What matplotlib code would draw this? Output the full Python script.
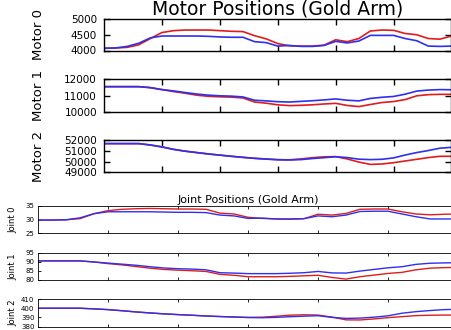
import matplotlib
matplotlib.use("Agg")
import matplotlib.pyplot as plt

# Sample times shared by every trace
time = [0, 2, 4, 6, 8, 10, 12, 14, 16, 18, 20, 22, 24, 26, 28, 30,
        32, 34, 36, 38, 40, 42, 44, 46, 48, 50, 52, 54, 56, 58, 60]

# Motor encoder positions: commanded (red) and measured (blue)
motor0_red = [4070, 4080, 4100, 4180, 4380, 4570, 4630, 4650, 4650, 4650,
              4630, 4610, 4600, 4470, 4370, 4220, 4150, 4140, 4140, 4170,
              4340, 4280, 4380, 4620, 4650, 4640, 4540, 4500, 4380, 4360, 4460]
motor0_blue = [4070, 4080, 4130, 4230, 4400, 4460, 4460, 4460, 4460, 4450,
               4430, 4420, 4420, 4280, 4250, 4140, 4160, 4130, 4130, 4160,
               4290, 4240, 4300, 4480, 4480, 4480, 4380, 4310, 4140, 4130, 4140]

motor1_red = [11550, 11550, 11550, 11550, 11490, 11370, 11250, 11150, 11030,
              10960, 10930, 10910, 10860, 10610, 10540, 10440, 10390, 10410,
              10440, 10490, 10530, 10400, 10330, 10460, 10580, 10640, 10760,
              10990, 11060, 11080, 11080]
motor1_blue = [11550, 11550, 11550, 11550, 11490, 11370, 11290, 11190, 11100,
               11030, 10990, 10970, 10920, 10720, 10680, 10630, 10610, 10650,
               10690, 10740, 10800, 10720, 10680, 10830, 10900, 10950, 11090,
               11280, 11340, 11370, 11360]

motor2_red = [51690, 51690, 51690, 51690, 51560, 51380, 51150, 50980, 50850,
              50720, 50610, 50500, 50400, 50310, 50240, 50180, 50170, 50250,
              50370, 50450, 50470, 50250, 49960, 49740, 49780, 49900, 50060,
              50220, 50380, 50500, 50500]
motor2_blue = [51690, 51690, 51690, 51690, 51560, 51380, 51150, 50980, 50850,
               50720, 50610, 50500, 50400, 50310, 50240, 50180, 50160, 50190,
               50290, 50370, 50460, 50380, 50230, 50190, 50220, 50350, 50620,
               50850, 51040, 51260, 51340]

# Joint angles in degrees
joint0_red = [29.8, 29.8, 29.9, 30.3, 32.1, 33.2, 33.7, 33.9, 34.0, 33.9,
              33.8, 33.8, 33.7, 32.3, 32.0, 30.8, 30.4, 30.2, 30.1, 30.3,
              31.9, 31.6, 32.2, 33.7, 33.8, 33.8, 32.8, 32.0, 31.7, 31.9, 32.0]
joint0_blue = [29.8, 29.8, 29.9, 30.6, 32.1, 32.8, 32.8, 32.8, 32.8, 32.7,
               32.6, 32.6, 32.5, 31.6, 31.3, 30.4, 30.5, 30.2, 30.2, 30.3,
               31.3, 31.0, 31.6, 32.9, 33.0, 33.0, 32.0, 31.0, 30.2, 30.2, 30.2]

joint1_red = [90.5, 90.5, 90.5, 90.5, 89.9, 89.0, 88.3, 87.4, 86.5, 85.8,
              85.4, 85.1, 84.7, 83.1, 82.6, 81.8, 81.8, 81.8, 82.0, 82.3,
              82.6, 81.4, 80.5, 81.8, 82.7, 83.6, 84.2, 85.6, 86.5, 86.8, 86.9]
joint1_blue = [90.5, 90.5, 90.5, 90.5, 89.9, 89.3, 88.7, 88.1, 87.3, 86.6,
               86.2, 86.0, 85.6, 84.0, 83.8, 83.5, 83.5, 83.5, 83.7, 84.0,
               84.7, 83.9, 83.8, 84.9, 85.8, 86.7, 87.3, 88.6, 89.2, 89.4, 89.5]

joint2_red = [400.0, 400.0, 400.0, 400.0, 399.3, 398.5, 397.3, 396.0, 394.9,
              393.9, 393.1, 392.4, 391.6, 391.0, 390.5, 390.1, 390.3, 391.3,
              392.5, 392.9, 392.6, 390.4, 387.4, 387.3, 388.4, 389.8, 390.9,
              392.0, 392.4, 392.6, 392.6]
joint2_blue = [400.0, 400.0, 400.0, 400.0, 399.3, 398.5, 397.3, 396.0, 394.9,
               393.9, 393.1, 392.4, 391.6, 391.0, 390.5, 389.9, 389.7, 390.1,
               390.8, 391.4, 391.9, 390.1, 389.0, 389.3, 390.3, 391.8, 394.6,
               396.3, 397.5, 398.5, 398.8]

motor_labels = ["Motor 0", "Motor 1", "Motor 2"]
motor_ticks = [[4000, 4500, 5000],
               [10000, 11000, 12000],
               [49000, 50000, 51000, 52000]]
joint_labels = ["Joint 0", "Joint 1", "Joint 2"]
joint_ticks = [[25, 30, 35],
               [80, 85, 90, 95],
               [380, 390, 400, 410]]

RED = "#e01c1c"
BLUE = "#2f2ff0"

W, H = 451, 330

plt.rcParams["xtick.direction"] = "in"
plt.rcParams["ytick.direction"] = "in"
plt.rcParams["xtick.top"] = True
plt.rcParams["ytick.right"] = True

fig = plt.figure(figsize=(W / 100, H / 100), dpi=100)


def rect(left, top, right, bottom):
    """Axes rectangle from pixel edges measured from the top-left corner."""
    return [left / W, 1 - bottom / H, (right - left) / W, (bottom - top) / H]


def draw_panel(box, red, blue, ticks, label, lw, tick_size, label_size,
               tick_len, tick_pad, spine_w, xmax):
    ax = fig.add_axes(rect(*box))
    ax.plot(time, red, color=RED, lw=lw)
    ax.plot(time, blue, color=BLUE, lw=lw)
    ax.set_xlim(0, xmax)
    ax.set_ylim(ticks[0], ticks[-1])
    ax.set_xticks(range(10, 60, 10))
    ax.set_xticklabels([])
    ax.set_yticks(ticks)
    ax.tick_params(labelsize=tick_size, length=tick_len, width=spine_w,
                   pad=tick_pad)
    ax.set_ylabel(label, fontsize=label_size)
    for sp in ax.spines.values():
        sp.set_linewidth(spine_w)
    return ax


# Upper figure: motor positions
motor_boxes = [(104, 19, 451.5, 50.5),
               (104, 79.3, 451.5, 112),
               (104, 140.3, 451.5, 172.3)]
motor_data = [(motor0_red, motor0_blue),
              (motor1_red, motor1_blue),
              (motor2_red, motor2_blue)]
motor_axes = []
for box, (r, b), ticks, label in zip(motor_boxes, motor_data,
                                      motor_ticks, motor_labels):
    motor_axes.append(draw_panel(box, r, b, ticks, label, lw=1.2,
                                 tick_size=7.5, label_size=9.5, tick_len=4,
                                 tick_pad=5, spine_w=1.0, xmax=60))
motor_axes[0].set_title("Motor Positions (Gold Arm)", fontsize=13.5, pad=1)
for ax in motor_axes:
    ax.yaxis.set_label_coords(-0.17, 0.5)

# Lower figure: joint positions
joint_boxes = [(38, 205.7, 458, 233.3),
               (38, 252.7, 458, 280),
               (38, 299, 458, 326.7)]
joint_data = [(joint0_red, joint0_blue),
              (joint1_red, joint1_blue),
              (joint2_red, joint2_blue)]
joint_axes = []
for box, (r, b), ticks, label in zip(joint_boxes, joint_data,
                                      joint_ticks, joint_labels):
    joint_axes.append(draw_panel(box, r, b, ticks, label, lw=1.0,
                                 tick_size=5, label_size=6, tick_len=2.5,
                                 tick_pad=2.5, spine_w=0.6, xmax=60))
joint_axes[0].set_title("Joint Positions (Gold Arm)", fontsize=8, pad=2)
for ax in joint_axes:
    ax.yaxis.set_label_coords(-0.048, 0.5)

fig.savefig("out.png", dpi=100)
